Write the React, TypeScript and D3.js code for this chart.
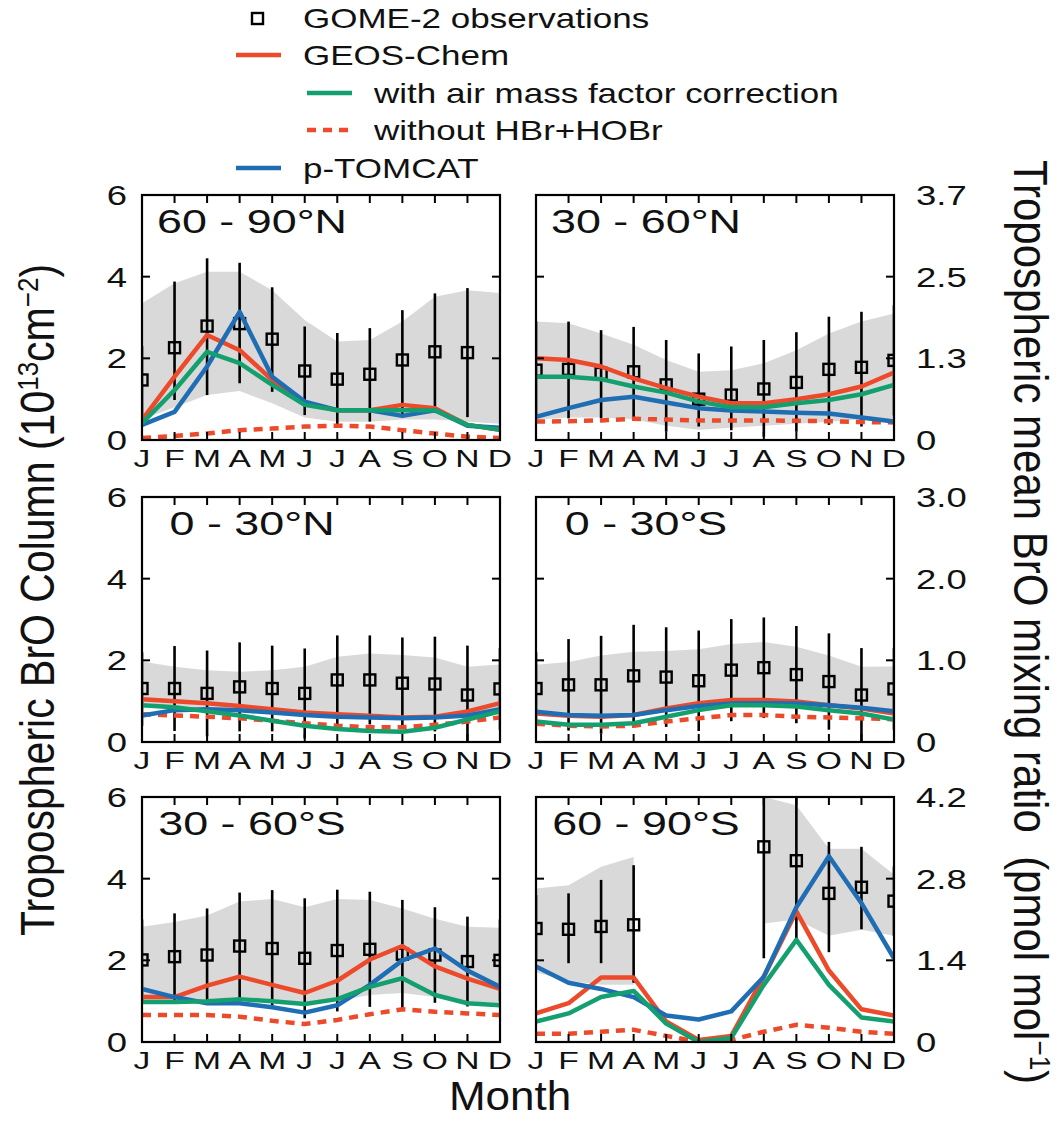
import React from 'react';
import * as d3 from 'd3';

const FONT = "'Liberation Sans', Arial, Helvetica, sans-serif";
const MONTHS = ['J', 'F', 'M', 'A', 'M', 'J', 'J', 'A', 'S', 'O', 'N', 'D'];

// 60 - 90°N
const obsN6090 = [1.47, 2.26, 2.79, 2.85, 2.47, 1.69, 1.49, 1.61, 1.96, 2.16, 2.14, null];
const obsLoN6090 = [0.6, 0.98, 1.1, 1.39, 1.18, 0.61, 0.37, 0.45, 0.57, 0.66, 0.56, null];
const obsHiN6090 = [2.3, 3.88, 4.45, 4.34, 3.74, 2.78, 2.62, 2.74, 3.18, 3.59, 3.72, null];
const bandLoN6090 = [0.5, 0.8, 1.1, 1.2, 0.9, 0.55, 0.45, 0.45, 0.5, 0.5, 0.45, 0.4];
const bandHiN6090 = [3.35, 3.84, 4.12, 4.12, 3.67, 2.94, 2.41, 2.45, 2.9, 3.51, 3.67, 3.6];
const geosN6090 = [0.49, 1.55, 2.57, 2.2, 1.47, 0.9, 0.73, 0.73, 0.86, 0.78, 0.37, 0.25];
const amfN6090 = [0.41, 1.22, 2.16, 1.88, 1.35, 0.86, 0.73, 0.73, 0.73, 0.73, 0.37, 0.25];
const noHBrN6090 = [0.05, 0.1, 0.16, 0.24, 0.28, 0.33, 0.35, 0.33, 0.24, 0.16, 0.08, 0.05];
const tomcatN6090 = [0.37, 0.69, 1.8, 3.14, 1.55, 0.94, 0.73, 0.73, 0.59, 0.73, 0.35, 0.3];

// 30 - 60°N
const obsN3060 = [1.71, 1.73, 1.63, 1.67, 1.35, 1.0, 1.1, 1.25, 1.41, 1.73, 1.78, 1.95];
const obsLoN3060 = [0.55, 0.53, 0.53, 0.53, 0.2, 0.33, 0.24, 0.08, 0.2, 0.37, 0.33, 0.6];
const obsHiN3060 = [2.9, 2.9, 2.69, 2.77, 2.45, 2.12, 2.29, 2.45, 2.64, 3.02, 3.14, 3.3];
const bandLoN3060 = [0.5, 0.55, 0.55, 0.5, 0.35, 0.25, 0.3, 0.35, 0.4, 0.45, 0.5, 0.5];
const bandHiN3060 = [2.9, 2.86, 2.61, 2.33, 1.96, 1.67, 1.71, 1.88, 2.2, 2.61, 2.9, 3.1];
const geosN3060 = [2.0, 1.96, 1.8, 1.51, 1.27, 1.06, 0.9, 0.9, 1.0, 1.12, 1.31, 1.65];
const amfN3060 = [1.55, 1.55, 1.49, 1.31, 1.16, 0.94, 0.8, 0.8, 0.9, 0.98, 1.12, 1.35];
const noHBrN3060 = [0.45, 0.46, 0.48, 0.52, 0.5, 0.48, 0.48, 0.48, 0.47, 0.46, 0.44, 0.43];
const tomcatN3060 = [0.57, 0.78, 0.98, 1.06, 0.92, 0.78, 0.72, 0.7, 0.67, 0.65, 0.55, 0.45];

// 0 - 30°N
const obsN0030 = [1.31, 1.31, 1.19, 1.35, 1.31, 1.19, 1.52, 1.52, 1.44, 1.42, 1.15, 1.3];
const obsLoN0030 = [0.4, 0.27, 0.14, 0.26, 0.26, 0.09, 0.43, 0.43, 0.32, 0.26, 0.0, 0.3];
const obsHiN0030 = [2.2, 2.35, 2.24, 2.44, 2.36, 2.29, 2.61, 2.61, 2.56, 2.58, 2.36, 2.3];
const bandLoN0030 = [0.85, 0.8, 0.8, 0.75, 0.7, 0.65, 0.7, 0.7, 0.65, 0.65, 0.7, 0.85];
const bandHiN0030 = [1.97, 1.84, 1.76, 1.72, 1.76, 1.84, 2.09, 2.17, 2.13, 2.07, 1.84, 1.9];
const geosN0030 = [1.05, 1.0, 0.95, 0.88, 0.8, 0.72, 0.68, 0.64, 0.6, 0.62, 0.75, 0.95];
const amfN0030 = [0.9, 0.85, 0.75, 0.65, 0.52, 0.4, 0.32, 0.27, 0.25, 0.35, 0.55, 0.75];
const noHBrN0030 = [0.68, 0.65, 0.62, 0.58, 0.52, 0.46, 0.4, 0.36, 0.36, 0.42, 0.5, 0.6];
const tomcatN0030 = [0.65, 0.78, 0.8, 0.78, 0.72, 0.66, 0.62, 0.6, 0.58, 0.6, 0.65, 0.8];

// 0 - 30°S
const obsS0030 = [1.31, 1.4, 1.4, 1.62, 1.59, 1.5, 1.76, 1.82, 1.65, 1.48, 1.15, 1.3];
const obsLoS0030 = [0.4, 0.28, 0.2, 0.37, 0.37, 0.27, 0.51, 0.59, 0.46, 0.3, 0.0, 0.3];
const obsHiS0030 = [2.2, 2.52, 2.6, 2.87, 2.81, 2.73, 3.01, 3.05, 2.84, 2.66, 2.3, 2.3];
const bandLoS0030 = [0.7, 0.65, 0.65, 0.7, 0.8, 0.9, 1.0, 1.0, 0.95, 0.9, 0.8, 0.75];
const bandHiS0030 = [1.89, 1.96, 2.12, 2.21, 2.23, 2.27, 2.4, 2.45, 2.33, 2.12, 1.84, 1.85];
const geosS0030 = [0.7, 0.64, 0.62, 0.66, 0.82, 0.95, 1.03, 1.03, 0.99, 0.9, 0.82, 0.7];
const amfS0030 = [0.5, 0.42, 0.42, 0.46, 0.62, 0.78, 0.9, 0.9, 0.87, 0.78, 0.7, 0.55];
const noHBrS0030 = [0.45, 0.4, 0.38, 0.4, 0.5, 0.58, 0.66, 0.66, 0.62, 0.6, 0.58, 0.56];
const tomcatS0030 = [0.74, 0.66, 0.64, 0.66, 0.78, 0.88, 0.94, 0.95, 0.94, 0.9, 0.84, 0.75];

// 30 - 60°S
const obsS3060 = [2.01, 2.09, 2.13, 2.35, 2.29, 2.05, 2.24, 2.27, 2.15, 2.13, 1.97, 2.0];
const obsLoS3060 = [1.0, 1.03, 0.99, 1.04, 0.86, 0.58, 0.75, 0.86, 0.82, 0.96, 0.87, 1.0];
const obsHiS3060 = [3.0, 3.15, 3.27, 3.66, 3.72, 3.52, 3.73, 3.68, 3.48, 3.3, 3.07, 3.0];
const bandLoS3060 = [1.0, 1.0, 1.05, 1.1, 1.05, 0.95, 1.0, 1.15, 1.2, 1.1, 1.0, 0.95];
const bandHiS3060 = [2.82, 2.94, 3.1, 3.44, 3.5, 3.3, 3.5, 3.48, 3.27, 3.02, 2.82, 2.8];
const geosS3060 = [1.1, 1.1, 1.38, 1.6, 1.4, 1.2, 1.5, 2.02, 2.35, 1.85, 1.55, 1.3];
const amfS3060 = [0.98, 0.98, 1.0, 1.05, 1.0, 0.93, 1.05, 1.35, 1.56, 1.15, 0.95, 0.9];
const noHBrS3060 = [0.66, 0.66, 0.66, 0.62, 0.52, 0.44, 0.54, 0.68, 0.8, 0.74, 0.7, 0.66];
const tomcatS3060 = [1.3, 1.1, 0.95, 0.95, 0.85, 0.72, 0.9, 1.4, 2.0, 2.29, 1.75, 1.35];

// 60 - 90°S (no observations during polar night)
const obsS6090 = [2.78, 2.76, 2.83, 2.87, null, null, null, 4.78, 4.44, 3.64, 3.79, 3.45];
const obsLoS6090 = [2.0, 1.93, 1.93, 1.45, null, null, null, 2.05, 2.5, 2.2, 2.76, 2.6];
const obsHiS6090 = [3.6, 3.64, 3.97, 4.33, null, null, null, 6.5, 6.5, 4.9, 4.78, 4.3];
const bandLoS6090 = [1.7, 1.5, 1.4, 1.4, null, null, null, 2.9, 3.0, 2.6, 2.75, 2.6];
const bandHiS6090 = [3.76, 3.84, 4.29, 4.53, null, null, null, 6.0, 5.8, 4.73, 4.73, 4.1];
const geosS6090 = [0.7, 0.95, 1.58, 1.58, 0.5, 0.05, 0.15, 1.6, 3.2, 1.75, 0.8, 0.65];
const amfS6090 = [0.5, 0.7, 1.1, 1.25, 0.45, 0.0, 0.1, 1.4, 2.5, 1.4, 0.6, 0.5];
const noHBrS6090 = [0.2, 0.2, 0.25, 0.3, 0.15, 0.0, 0.05, 0.25, 0.42, 0.35, 0.25, 0.2];
const tomcatS6090 = [1.85, 1.45, 1.3, 1.1, 0.65, 0.55, 0.75, 1.6, 3.3, 4.55, 3.4, 2.05];

const leftTicks = [0, 2, 4, 6];
const rightTicksRow1 = ['0', '1.3', '2.5', '3.7'];
const rightTicksRow2 = ['0', '1.0', '2.0', '3.0'];
const rightTicksRow3 = ['0', '1.4', '2.8', '4.2'];

const RED = '#ec4a2a';
const GREEN = '#14a06e';
const BLUE = '#1f6db3';
const BAND = '#d9d9d9';

const COL_X = [142, 536];
const ROW_Y = [195, 497, 797];
const PANEL_W = 358;
const PANEL_H = 245;
const SX = 1.32;

const panels = [
  { id: 'n6090', title: '60 - 90°N', col: 0, row: 0, obs: obsN6090, lo: obsLoN6090, hi: obsHiN6090, bandLo: bandLoN6090, bandHi: bandHiN6090, geos: geosN6090, amf: amfN6090, noHBr: noHBrN6090, tomcat: tomcatN6090 },
  { id: 'n3060', title: '30 - 60°N', col: 1, row: 0, obs: obsN3060, lo: obsLoN3060, hi: obsHiN3060, bandLo: bandLoN3060, bandHi: bandHiN3060, geos: geosN3060, amf: amfN3060, noHBr: noHBrN3060, tomcat: tomcatN3060, right: rightTicksRow1 },
  { id: 'n0030', title: '0 - 30°N', col: 0, row: 1, obs: obsN0030, lo: obsLoN0030, hi: obsHiN0030, bandLo: bandLoN0030, bandHi: bandHiN0030, geos: geosN0030, amf: amfN0030, noHBr: noHBrN0030, tomcat: tomcatN0030 },
  { id: 's0030', title: '0 - 30°S', col: 1, row: 1, obs: obsS0030, lo: obsLoS0030, hi: obsHiS0030, bandLo: bandLoS0030, bandHi: bandHiS0030, geos: geosS0030, amf: amfS0030, noHBr: noHBrS0030, tomcat: tomcatS0030, right: rightTicksRow2 },
  { id: 's3060', title: '30 - 60°S', col: 0, row: 2, obs: obsS3060, lo: obsLoS3060, hi: obsHiS3060, bandLo: bandLoS3060, bandHi: bandHiS3060, geos: geosS3060, amf: amfS3060, noHBr: noHBrS3060, tomcat: tomcatS3060 },
  { id: 's6090', title: '60 - 90°S', col: 1, row: 2, obs: obsS6090, lo: obsLoS6090, hi: obsHiS6090, bandLo: bandLoS6090, bandHi: bandHiS6090, geos: geosS6090, amf: amfS6090, noHBr: noHBrS6090, tomcat: tomcatS6090, right: rightTicksRow3 },
];

const SText = ({ x, y, size, anchor = 'start', sx = SX, children }) => (
  <text
    transform={`translate(${x},${y}) scale(${sx},1)`}
    fontSize={size}
    textAnchor={anchor}
    fontFamily={FONT}
    fill="#111"
  >
    {children}
  </text>
);

const Panel = ({ p }) => {
  const x0 = COL_X[p.col];
  const y0 = ROW_Y[p.row];
  const x = d3.scaleLinear().domain([0, 11]).range([x0, x0 + PANEL_W]);
  const y = d3.scaleLinear().domain([0, 6]).range([y0 + PANEL_H, y0]);
  const line = d3
    .line()
    .defined((v) => v != null)
    .x((_, i) => x(i))
    .y((v) => y(v));
  const band = d3
    .area()
    .defined((_, i) => p.bandLo[i] != null && p.bandHi[i] != null)
    .x((_, i) => x(i))
    .y0((_, i) => y(p.bandLo[i] ?? 0))
    .y1((_, i) => y(p.bandHi[i] ?? 0));
  const clipId = `clip-${p.id}`;
  const idx = d3.range(12);
  const tickLen = 8;

  return (
    <g>
      <defs>
        <clipPath id={clipId}>
          <rect x={x0} y={y0} width={PANEL_W} height={PANEL_H} />
        </clipPath>
      </defs>
      <g clipPath={`url(#${clipId})`}>
        <path d={band(idx)} fill={BAND} />
        {idx.map((i) =>
          p.lo[i] == null ? null : (
            <line key={`e${i}`} x1={x(i)} x2={x(i)} y1={y(p.lo[i])} y2={y(p.hi[i])} stroke="#000" strokeWidth={2.6} />
          )
        )}
        {idx.map((i) =>
          p.obs[i] == null ? null : (
            <rect key={`o${i}`} x={x(i) - 5.5} y={y(p.obs[i]) - 5.5} width={11} height={11} fill="none" stroke="#000" strokeWidth={2.4} />
          )
        )}
        <path d={line(p.noHBr)} fill="none" stroke={RED} strokeWidth={4.5} strokeDasharray="9 7" />
        <path d={line(p.geos)} fill="none" stroke={RED} strokeWidth={4.5} strokeLinejoin="round" />
        <path d={line(p.tomcat)} fill="none" stroke={BLUE} strokeWidth={4.5} strokeLinejoin="round" />
        <path d={line(p.amf)} fill="none" stroke={GREEN} strokeWidth={4.5} strokeLinejoin="round" />
      </g>
      <rect x={x0} y={y0} width={PANEL_W} height={PANEL_H} fill="none" stroke="#000" strokeWidth={2.2} />
      {idx.map((i) => (
        <g key={`t${i}`}>
          <line x1={x(i)} x2={x(i)} y1={y0} y2={y0 + tickLen} stroke="#000" strokeWidth={2} />
          <line x1={x(i)} x2={x(i)} y1={y0 + PANEL_H} y2={y0 + PANEL_H - tickLen} stroke="#000" strokeWidth={2} />
        </g>
      ))}
      {leftTicks.map((v) => (
        <g key={`y${v}`}>
          <line x1={x0} x2={x0 + tickLen} y1={y(v)} y2={y(v)} stroke="#000" strokeWidth={2} />
          <line x1={x0 + PANEL_W} x2={x0 + PANEL_W - tickLen} y1={y(v)} y2={y(v)} stroke="#000" strokeWidth={2} />
        </g>
      ))}
      <SText x={x0 + 110} y={y0 + 38} size={34} anchor="middle">
        {p.title}
      </SText>
      {MONTHS.map((m, i) => (
        <SText key={`m${i}`} x={x(i)} y={y0 + PANEL_H + 27} size={24} anchor="middle" sx={1.4}>
          {m}
        </SText>
      ))}
      {p.col === 0 &&
        leftTicks.map((v) => (
          <SText key={`l${v}`} x={x0 - 15} y={y(v) + 10} size={27} anchor="end" sx={1.35}>
            {v}
          </SText>
        ))}
      {p.right &&
        p.right.map((lab, k) => (
          <SText key={`r${k}`} x={x0 + PANEL_W + 22} y={y(leftTicks[k]) + 10} size={27} sx={1.35}>
            {lab}
          </SText>
        ))}
    </g>
  );
};

const Legend = () => {
  const rows = [18, 55, 93, 130, 168];
  return (
    <g>
      <rect x={252} y={rows[0] - 5} width={11} height={11} fill="none" stroke="#000" strokeWidth={2.4} />
      <SText x={303} y={rows[0] + 10} size={28} sx={1.25}>GOME-2 observations</SText>
      <line x1={236} x2={281} y1={rows[1]} y2={rows[1]} stroke={RED} strokeWidth={4.5} />
      <SText x={303} y={rows[1] + 10} size={28} sx={1.25}>GEOS-Chem</SText>
      <line x1={307} x2={352} y1={rows[2]} y2={rows[2]} stroke={GREEN} strokeWidth={4.5} />
      <SText x={374} y={rows[2] + 10} size={28} sx={1.25}>with air mass factor correction</SText>
      <line x1={307} x2={352} y1={rows[3]} y2={rows[3]} stroke={RED} strokeWidth={4.5} strokeDasharray="9 7" />
      <SText x={374} y={rows[3] + 10} size={28} sx={1.25}>without HBr+HOBr</SText>
      <line x1={236} x2={281} y1={rows[4]} y2={rows[4]} stroke={BLUE} strokeWidth={4.5} />
      <SText x={303} y={rows[4] + 10} size={28} sx={1.25}>p-TOMCAT</SText>
    </g>
  );
};

export default function App() {
  return (
    <div style={{ position: 'absolute', left: 0, top: 0 }}>
      <svg width={1060} height={1122} style={{ display: 'block', background: '#fff' }}>
        <Legend />
        {panels.map((p) => (
          <Panel key={p.id} p={p} />
        ))}
        <text
          transform="translate(54,600) rotate(-90) scale(1,1.15)"
          fontSize={41}
          textAnchor="middle"
          fontFamily={FONT}
          fill="#111"
        >
          Tropospheric BrO Column (10
          <tspan dy={-14} fontSize={26}>13</tspan>
          <tspan dy={14}>cm</tspan>
          <tspan dy={-14} fontSize={26}>−2</tspan>
          <tspan dy={14}>)</tspan>
        </text>
        <text
          transform="translate(1014,622) rotate(90) scale(1,1.15)"
          fontSize={42}
          textAnchor="middle"
          fontFamily={FONT}
          fill="#111"
        >
          Tropospheric mean BrO mixing ratio{'\u00a0\u00a0'}(pmol mol
          <tspan dy={-14} fontSize={26}>−1</tspan>
          <tspan dy={14}>)</tspan>
        </text>
        <SText x={510} y={1110} size={40} anchor="middle" sx={1.1}>
          Month
        </SText>
      </svg>
    </div>
  );
}
